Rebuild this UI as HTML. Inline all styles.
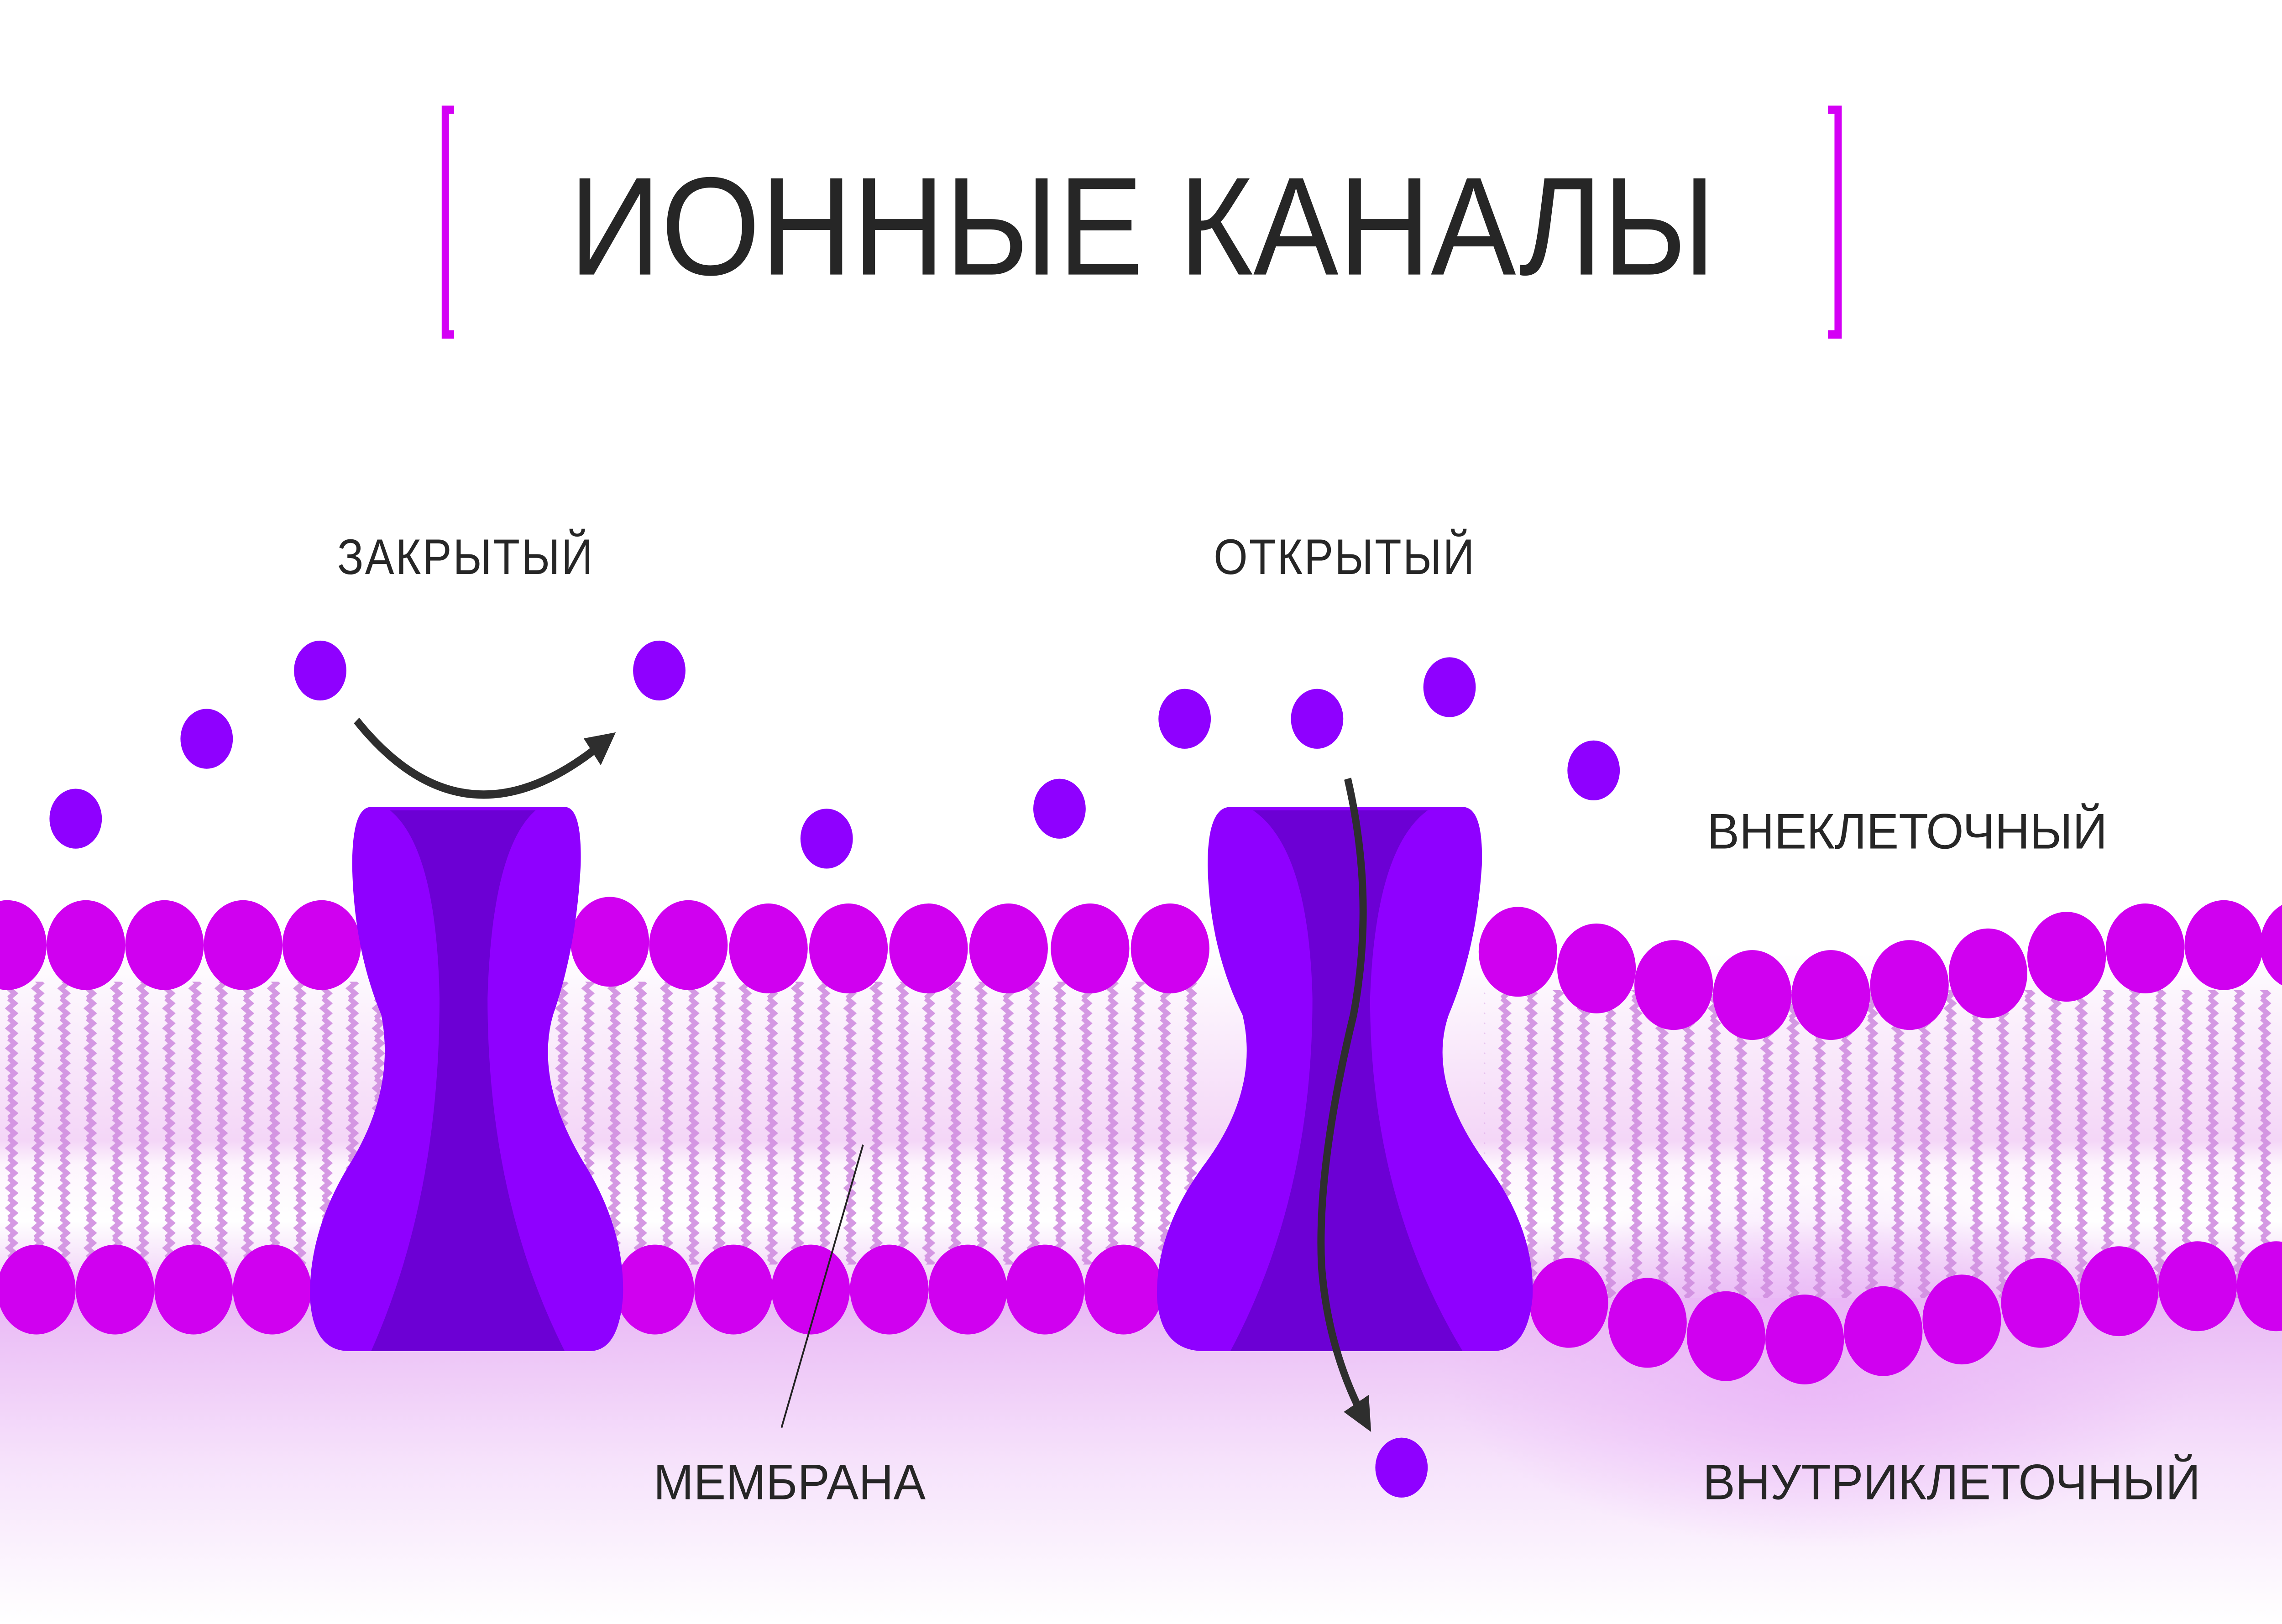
<!DOCTYPE html>
<html><head><meta charset="utf-8"><style>
html,body{margin:0;padding:0;background:#fff;overflow:hidden;width:100%;height:100%;}
svg{display:block;width:100vw;height:100vh;}
text{font-family:"Liberation Sans","DejaVu Sans",sans-serif;fill:#262626;}
</style></head><body>
<svg viewBox="0 0 1568 976" preserveAspectRatio="none" xmlns="http://www.w3.org/2000/svg">
<defs>
<linearGradient id="bg" x1="0" y1="0" x2="0" y2="1">
<stop offset="0" stop-color="#fff"/>
<stop offset="0.55" stop-color="#f4d6f7"/>
<stop offset="0.62" stop-color="#fdf5fd"/>
<stop offset="0.78" stop-color="#ffffff"/>
<stop offset="0.95" stop-color="#f1d3f7"/>
<stop offset="1" stop-color="#ecc6f6"/>
</linearGradient>
<linearGradient id="low" x1="0" y1="0" x2="0" y2="1">
<stop offset="0" stop-color="#e9b8f5"/>
<stop offset="0.5" stop-color="#f6e2fb"/>
<stop offset="1" stop-color="#ffffff"/>
</linearGradient>
<radialGradient id="glow" cx="0.5" cy="0.5" r="0.5">
<stop offset="0" stop-color="#eab6f7"/>
<stop offset="1" stop-color="#eab6f7" stop-opacity="0"/>
</radialGradient>
<pattern id="tails" width="18" height="12" patternUnits="userSpaceOnUse">
<path d="M6,0 L10,3 L6,6 L10,9 L6,12" stroke="#d08ee0" stroke-width="3.2" fill="none"/>
</pattern>
<marker id="ah" markerWidth="4" markerHeight="4" refX="2" refY="2" orient="auto" markerUnits="strokeWidth">
<path d="M0,0 L4,2 L0,4 Z" fill="#2e2e2e"/>
</marker>
</defs>
<rect width="1568" height="976" fill="#fff"/>
<rect x="0" y="570" width="1568" height="210" fill="url(#bg)"/>
<rect x="0" y="780" width="1568" height="196" fill="url(#low)"/>
<ellipse cx="1250" cy="820" rx="260" ry="110" fill="url(#glow)"/>
<rect x="0" y="590" width="830" height="170" fill="url(#tails)" opacity="0.9"/>
<rect x="1020" y="595" width="548" height="185" fill="url(#tails)" opacity="0.9"/>
<g fill="#d000f0">
<circle cx="5" cy="568" r="27"/><circle cx="59" cy="568" r="27"/><circle cx="113" cy="568" r="27"/><circle cx="167" cy="568" r="27"/><circle cx="221" cy="568" r="27"/>
<circle cx="419" cy="566" r="27"/><circle cx="473" cy="568" r="27"/><circle cx="528" cy="570" r="27"/><circle cx="583" cy="570" r="27"/><circle cx="638" cy="570" r="27"/><circle cx="693" cy="570" r="27"/><circle cx="749" cy="570" r="27"/><circle cx="804" cy="570" r="27"/>
<circle cx="1043" cy="572" r="27"/><circle cx="1097" cy="582" r="27"/><circle cx="1150" cy="592" r="27"/><circle cx="1204" cy="598" r="27"/><circle cx="1258" cy="598" r="27"/><circle cx="1312" cy="592" r="27"/><circle cx="1366" cy="585" r="27"/><circle cx="1420" cy="575" r="27"/><circle cx="1474" cy="570" r="27"/><circle cx="1528" cy="568" r="27"/><circle cx="1580" cy="568" r="27"/>
<circle cx="25" cy="775" r="27"/><circle cx="79" cy="775" r="27"/><circle cx="133" cy="775" r="27"/><circle cx="187" cy="775" r="27"/>
<circle cx="450" cy="775" r="27"/><circle cx="504" cy="775" r="27"/><circle cx="557" cy="775" r="27"/><circle cx="611" cy="775" r="27"/><circle cx="665" cy="775" r="27"/><circle cx="718" cy="775" r="27"/><circle cx="772" cy="775" r="27"/>
<circle cx="1078" cy="783" r="27"/><circle cx="1132" cy="795" r="27"/><circle cx="1186" cy="803" r="27"/><circle cx="1240" cy="805" r="27"/><circle cx="1294" cy="800" r="27"/><circle cx="1348" cy="793" r="27"/><circle cx="1402" cy="783" r="27"/><circle cx="1456" cy="776" r="27"/><circle cx="1510" cy="773" r="27"/><circle cx="1564" cy="773" r="27"/>
</g>
<g>
<path d="M255,485 L388,485 Q400,485 399,520 Q396,570 380,610 Q367,650 402,700 Q430,740 428,780 Q425,812 405,812 L240,812 Q215,812 213,780 Q212,740 240,700 Q272,655 262,610 Q243,570 242,520 Q242,485 255,485 Z" fill="#8f00ff"/>
<path d="M268,487 L368,487 Q338,510 335,600 Q335,720 388,812 L255,812 Q302,720 302,600 Q300,510 268,487 Z" fill="#6c00d4"/>
</g>
<g transform="translate(795,0) scale(1.2,1) translate(-213,0)">
<path d="M255,485 L388,485 Q400,485 399,520 Q396,570 380,610 Q367,650 402,700 Q430,740 428,780 Q425,812 405,812 L240,812 Q215,812 213,780 Q212,740 240,700 Q272,655 262,610 Q243,570 242,520 Q242,485 255,485 Z" fill="#8f00ff"/>
<path d="M268,487 L368,487 Q338,510 335,600 Q335,720 388,812 L255,812 Q302,720 302,600 Q300,510 268,487 Z" fill="#6c00d4"/>
</g>
<g fill="#8f00ff">
<circle cx="52" cy="492" r="18"/><circle cx="142" cy="444" r="18"/><circle cx="220" cy="403" r="18"/><circle cx="453" cy="403" r="18"/><circle cx="568" cy="504" r="18"/><circle cx="728" cy="486" r="18"/><circle cx="814" cy="432" r="18"/><circle cx="905" cy="432" r="18"/><circle cx="996" cy="413" r="18"/><circle cx="1095" cy="463" r="18"/><circle cx="963" cy="882" r="18"/>
</g>
<path d="M245,433 Q320,515 415,446" stroke="#2e2e2e" stroke-width="5" fill="none" marker-end="url(#ah)"/>
<path d="M926,468 Q945,540 930,610 Q905,700 908,760 Q912,810 937,852" stroke="#2e2e2e" stroke-width="5" fill="none" marker-end="url(#ah)"/>
<line x1="537" y1="858" x2="593" y2="688" stroke="#222" stroke-width="1.2"/>
<path d="M312,66 L306,66 L306,201 L312,201" stroke="#d400f5" stroke-width="5" fill="none"/>
<path d="M1256,66 L1263,66 L1263,201 L1256,201" stroke="#d400f5" stroke-width="5" fill="none"/>
<text x="785" y="165" font-size="84" text-anchor="middle" textLength="788" lengthAdjust="spacingAndGlyphs">ИОННЫЕ КАНАЛЫ</text>
<text x="320" y="345" font-size="30" text-anchor="middle" letter-spacing="1">ЗАКРЫТЫЙ</text>
<text x="924" y="345" font-size="30" text-anchor="middle" letter-spacing="1">ОТКРЫТЫЙ</text>
<text x="1173" y="510" font-size="30" textLength="275" lengthAdjust="spacingAndGlyphs">ВНЕКЛЕТОЧНЫЙ</text>
<text x="449" y="901" font-size="30" textLength="187" lengthAdjust="spacingAndGlyphs">МЕМБРАНА</text>
<text x="1170" y="901" font-size="30" textLength="342" lengthAdjust="spacingAndGlyphs">ВНУТРИКЛЕТОЧНЫЙ</text>
</svg>
</body></html>
